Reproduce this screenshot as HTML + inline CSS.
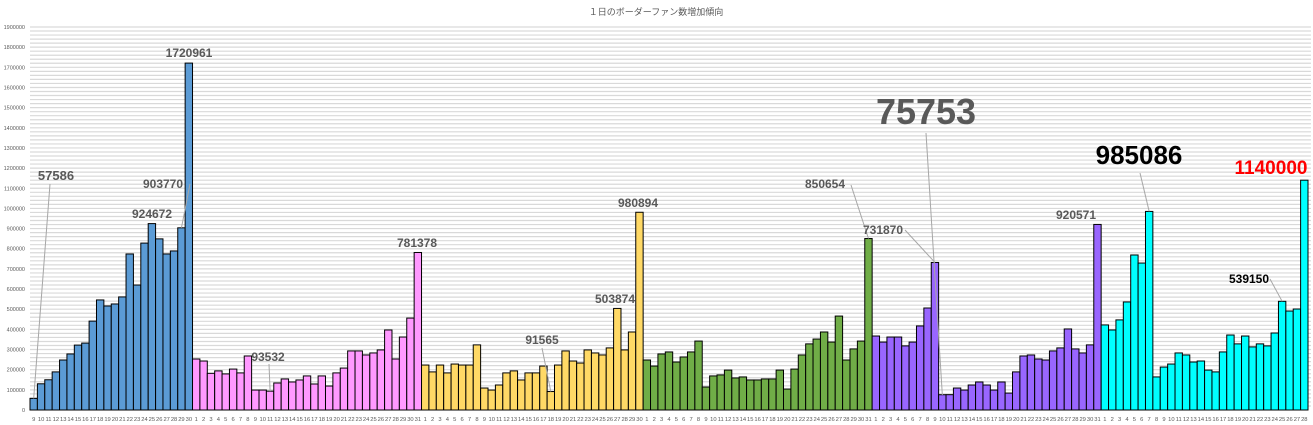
<!DOCTYPE html>
<html><head><meta charset="utf-8"><style>
html,body{margin:0;padding:0;background:#fff}
svg{display:block;font-family:"Liberation Sans","Noto Sans CJK JP",sans-serif}
</style></head><body>
<svg id="chart" width="1313" height="425" viewBox="0 0 1313 425" xmlns="http://www.w3.org/2000/svg">
<text x="656" y="15" text-anchor="middle" font-size="9" fill="#595959" font-family="'Liberation Sans','Noto Sans CJK JP',sans-serif">１日のボーダーファン数増加傾向</text>
<g id="grid"></g><g id="ylab"></g><g id="bars"></g><g id="xlab"></g><g id="ann"></g>
</svg>
<script>
const groupDays = [[9,30],[1,31],[1,30],[1,31],[1,31],[1,28]];
const groupColors = ["#5B9BD5","#FF99FF","#FFD966","#70AD47","#9966FF","#00FFFF"];
const valuesBlue = [57586,130000,150000,189000,248000,278000,322000,332000,441000,546000,516000,526000,561000,774000,620000,828000,924672,849000,774000,789000,903770,1720961];
const valuesPink = [253000,243000,182000,194000,179000,203000,184000,268000,99000,99000,93532,134000,154000,139000,149000,169000,129000,169000,119000,184000,208000,293000,293000,273000,283000,298000,397000,253000,362000,456000,781378];
const valuesYellow = [223000,189000,223000,184000,228000,223000,223000,323000,109000,99000,124000,184000,194000,149000,184000,184000,218000,91565,223000,293000,243000,233000,298000,283000,273000,308000,503874,298000,387000,980894];
const valuesGreen = [248000,218000,278000,288000,238000,263000,288000,342000,114000,169000,174000,198000,159000,164000,149000,149000,154000,154000,198000,104000,203000,273000,328000,352000,387000,337000,466000,248000,303000,342000,850654];
const valuesPurple = [367000,337000,362000,362000,318000,337000,417000,506000,731870,75753,76000,109000,99000,124000,139000,124000,99000,139000,84000,189000,268000,273000,253000,248000,293000,308000,402000,303000,283000,323000,920571];
const valuesCyan = [422000,397000,447000,536000,769000,729000,985086,164000,213000,228000,283000,273000,238000,243000,198000,189000,288000,372000,328000,367000,313000,328000,318000,382000,539150,491000,501000,1140000];
const yMax = 1900000;
const yTickStep = 100000;
const gridStep = 20000;
const annotations = [
 {g:0,d:9,text:"57586",tx:56,ty:180,size:13,color:"#595959",lead:[50,184]},
 {g:0,d:30,text:"1720961",tx:189,ty:57,size:12,color:"#595959"},
 {g:0,d:29,text:"903770",tx:163,ty:188,size:12,color:"#595959",lead:[190,184]},
 {g:0,d:25,text:"924672",tx:152,ty:218,size:12,color:"#595959"},
 {g:1,d:11,text:"93532",tx:268,ty:361,size:12,color:"#595959",lead:[269,364]},
 {g:1,d:31,text:"781378",tx:417,ty:247,size:12,color:"#595959"},
 {g:2,d:30,text:"980894",tx:638,ty:207,size:12,color:"#595959"},
 {g:2,d:27,text:"503874",tx:615,ty:303,size:12,color:"#595959"},
 {g:2,d:18,text:"91565",tx:542,ty:344,size:12,color:"#595959",lead:[542,348]},
 {g:3,d:31,text:"850654",tx:825,ty:188,size:12,color:"#595959",lead:[851,185]},
 {g:4,d:9,text:"731870",tx:883,ty:234,size:12,color:"#595959",lead:[905,230]},
 {g:4,d:10,text:"75753",tx:926,ty:124,size:36,color:"#595959",lead:[926,133]},
 {g:4,d:31,text:"920571",tx:1076,ty:219,size:12,color:"#595959"},
 {g:5,d:7,text:"985086",tx:1139,ty:164,size:26,color:"#000000",lead:[1140,173]},
 {g:5,d:28,text:"1140000",tx:1271,ty:174,size:19,color:"#FF0000"},
 {g:5,d:25,text:"539150",tx:1249,ty:283,size:12,color:"#000000",lead:[1270,279]}
];
const groups=[valuesBlue,valuesPink,valuesYellow,valuesGreen,valuesPurple,valuesCyan];
const NS="http://www.w3.org/2000/svg";
const X0=30,X1=1308,Y0=410,Y1=27;
const total=groups.reduce((s,g)=>s+g.length,0);
const bw=(X1-X0)/total;
function y(v){return Y0-(v/yMax)*(Y0-Y1);}
function xi(i){return X0+i*bw;}
function mk(tag,attrs,parent){const e=document.createElementNS(NS,tag);for(const k in attrs)e.setAttribute(k,attrs[k]);parent.appendChild(e);return e;}
const grid=document.getElementById('grid'),ylab=document.getElementById('ylab'),bars=document.getElementById('bars'),xlab=document.getElementById('xlab'),ann=document.getElementById('ann');
for(let v=gridStep;v<=yMax;v+=gridStep){
 const l=mk('line',{x1:X0,x2:X1+3,y1:y(v),y2:y(v),stroke:'#d9d9d9','stroke-width':1.2},grid);
 
 
}
for(let v=0;v<=yMax;v+=yTickStep){
 const t=mk('text',{x:25,y:y(v)+2,'text-anchor':'end','font-size':5.5,fill:'#595959'},ylab);
 t.textContent=String(v);
 
 
}
let idx=0;const pos={};
groups.forEach((vals,g)=>{
 const start=groupDays[g][0];
 vals.forEach((v,k)=>{
  const d=start+k;
  const r=mk('rect',{x:xi(idx),y:y(v),width:bw,height:Y0-y(v),fill:groupColors[g],stroke:'#000','stroke-width':1},bars);
  
  
  pos[g+'-'+d]={x:xi(idx)+bw/2,y:y(v)};
  const t=mk('text',{x:xi(idx)+bw/2,y:421,'text-anchor':'middle','font-size':5.8,fill:'#595959'},xlab);
  t.textContent=String(d);
  
  
  idx++;
 });
});
annotations.forEach(a=>{
 const p=pos[a.g+'-'+a.d];
 if(a.lead){
  const l=mk('polyline',{points:a.lead[0]+','+a.lead[1]+' '+p.x+','+(a.d===10&&a.g===4?395:p.y),fill:'none',stroke:'#a6a6a6','stroke-width':1},ann);
  
  
 }
 const t=mk('text',{x:a.tx,y:a.ty,'text-anchor':'middle','font-size':a.size,'font-weight':'bold',fill:a.color},ann);
 t.textContent=a.text;
 
 
});
</script>
</body></html>
